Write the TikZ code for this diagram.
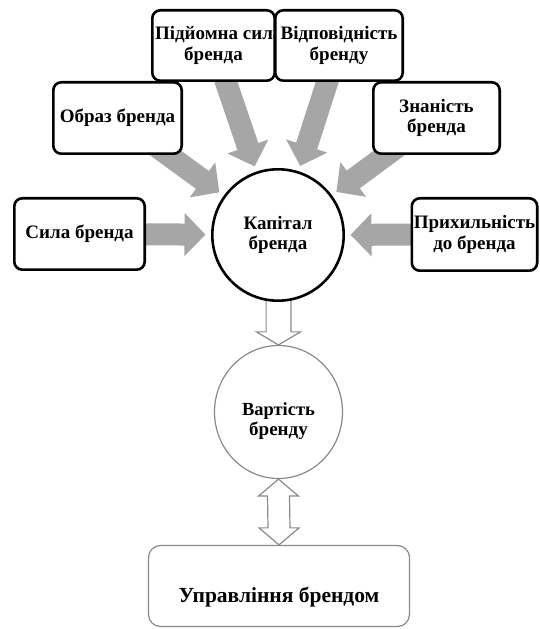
\documentclass[tikz,border=0pt]{standalone}
\usepackage{fontspec}
\setmainfont{Liberation Serif}
\newfontfamily\diagfont{Liberation Serif}[BoldFont={Liberation Serif Bold}]
\usetikzlibrary{arrows.meta,calc,shapes.geometric}
\pgfdeclarelayer{background}
\pgfsetlayers{background,main}
\definecolor{flowgrey}{HTML}{A6A6A6}
\definecolor{outlinegrey}{HTML}{8A8A8A}
\begin{document}
\begin{tikzpicture}[x=1pt,y=1pt,
  txt/.style={font=\diagfont\bfseries\fontsize{19}{20.5}\selectfont, align=center, inner sep=0pt},
  factor/.style={txt, draw=black, line width=2.6pt, rounded corners=8pt, fill=white},
  hub/.style={txt, circle, draw=black, line width=2.6pt, fill=white, minimum size=131.4pt},
  valuenode/.style={ellipse, draw=outlinegrey, line width=1.2pt, fill=white,
    minimum width=128pt, minimum height=133pt, inner sep=0pt},
  mgmtnode/.style={draw=outlinegrey, line width=1.2pt, rounded corners=12pt, fill=white,
    minimum width=261pt, minimum height=81pt, inner sep=0pt},
  flow/.style={draw=flowgrey, line width=22pt, shorten >=5.5pt,
    -{Triangle[length=21pt,width=42pt]}},
  hollow/.style={draw=outlinegrey, line width=1.2pt, line join=miter}
]
\useasboundingbox (0,0) rectangle (539,629);

% central hub
\node[hub] (kap) at (278,394) {Капітал\\бренда};

% contributing factors
\node[factor, minimum width=130.4pt, minimum height=71.4pt] (sila) at (79.5,395) {Сила бренда};
\node[factor, minimum width=128.4pt, minimum height=71.4pt] (obraz) at (117.5,511) {Образ бренда};
\node[factor, minimum width=122.4pt, minimum height=70.4pt] (pidy) at (213.5,583.5)
  {\makebox[122pt][l]{\hspace{2.5pt}Підйомна сила}\\бренда};
\node[factor, minimum width=127.4pt, minimum height=70.4pt] (vidp) at (339,583.5) {Відповідність\\бренду};
\node[factor, minimum width=126.4pt, minimum height=71.4pt] (znan) at (436.5,511) {Знаність\\бренда};
\node[factor, minimum width=125.4pt, minimum height=72.4pt] (pryh) at (474.5,394.5) {Прихильність\\до бренда};

% value and management
\node[valuenode] (var) at (278.5,217) {};
\node[txt] (vartext) at ($(var.center)+(0,-9)$)
  {\fontsize{18.5}{24}\selectfont Вартість\\бренду};
\node[mgmtnode] (upr) at (279,43) {};
\node[txt] (uprtext) at ($(upr.center)+(0,-11)$)
  {\fontsize{21.5}{24}\selectfont Управління брендом};

\begin{pgfonlayer}{background}
  % grey block arrows into the hub
  \foreach \src in {sila,obraz,pidy,vidp,znan,pryh}
    \draw[flow] (\src.center) -- (kap);

  % hollow arrow from the hub down to the value
  \draw[hollow]
    ($(var.north |- kap.center)+(-12.4,0)$) -- ($(var.north)+(-12.4,13)$)
    -- ($(var.north)+(-22,13)$) -- (var.north) -- ($(var.north)+(22,13)$)
    -- ($(var.north)+(12.4,13)$) -- ($(var.north |- kap.center)+(12.4,0)$);

  % two-way hollow arrow between value and management
  \draw[hollow]
    (var.south) -- ($(var.south)+(20,-17)$) -- ($(var.south)+(11,-17)$)
    -- ($(upr.north)+(11,17)$) -- ($(upr.north)+(20,17)$) -- (upr.north)
    -- ($(upr.north)+(-20,17)$) -- ($(upr.north)+(-11,17)$)
    -- ($(var.south)+(-11,-17)$) -- ($(var.south)+(-20,-17)$) -- cycle;
\end{pgfonlayer}
\end{tikzpicture}
\end{document}
